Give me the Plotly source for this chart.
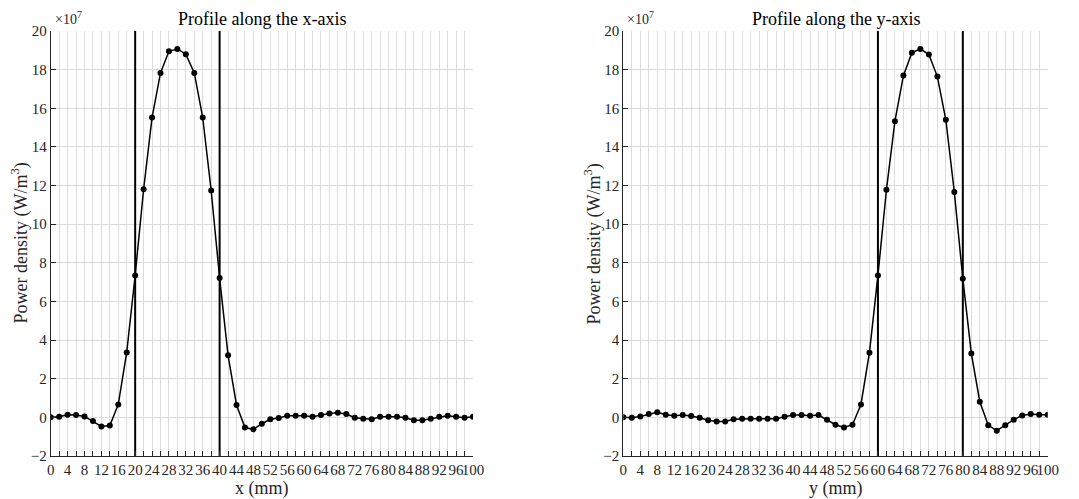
import plotly.graph_objects as go

# positions along each axis (mm)
pos_mm = list(range(0, 101, 2))

# power density along x (units of 1e7 W/m^3)
power_x = [0.00, 0.03, 0.14, 0.12, 0.05, -0.19, -0.47, -0.42, 0.67, 3.36,
           7.35, 11.81, 15.52, 17.83, 18.95, 19.07, 18.80, 17.83, 15.52, 11.74,
           7.21, 3.21, 0.64, -0.53, -0.62, -0.33, -0.10, -0.03, 0.09, 0.09,
           0.08, 0.03, 0.12, 0.20, 0.24, 0.17, -0.02, -0.07, -0.10, 0.03,
           0.03, 0.03, -0.02, -0.15, -0.15, -0.07, 0.03, 0.08, 0.03, -0.02,
           0.03]

# power density along y (units of 1e7 W/m^3)
power_y = [0.00, -0.02, 0.05, 0.17, 0.26, 0.14, 0.09, 0.12, 0.07, -0.02,
           -0.15, -0.21, -0.21, -0.10, -0.07, -0.07, -0.07, -0.07, -0.07, 0.03,
           0.12, 0.12, 0.09, 0.12, -0.12, -0.38, -0.52, -0.38, 0.67, 3.35,
           7.35, 11.78, 15.33, 17.69, 18.88, 19.07, 18.78, 17.64, 15.40, 11.66,
           7.18, 3.31, 0.81, -0.41, -0.69, -0.41, -0.12, 0.10, 0.17, 0.14,
           0.14]

x_bounds = [20, 40]
y_bounds = [60, 80]

x_ticks = list(range(0, 101, 4))
y_ticks = list(range(-2, 21, 2))
y_range = [-2, 20]

titles = ["Profile along the x-axis", "Profile along the y-axis"]
xlabels = ["x (mm)", "y (mm)"]
ylabel = "Power density (W/m<sup>3</sup>)"

FONT = "Liberation Serif, Times New Roman, serif"
AX = "#262626"
GRID = "#dcdcdc"

W, H = 1071, 491  # page has 8px body margin


def px(xpage):
    return (xpage - 8) / W


def py(ypage):
    return 1 - (ypage - 8) / H


fig = go.Figure()

panels = [
    (power_x, x_bounds, "x", "y", [px(50.7), px(473)], 20),
    (power_y, y_bounds, "x2", "y2", [px(623.3), px(1047.7)], 593),
]

for i, (vals, bounds, xa, ya, dom, ylab_x) in enumerate(panels):
    for b in bounds:
        fig.add_trace(go.Scatter(x=[b, b], y=y_range, mode="lines",
                                 line=dict(color="black", width=2),
                                 xaxis=xa, yaxis=ya, showlegend=False,
                                 hoverinfo="skip", cliponaxis=False))
    fig.add_trace(go.Scatter(x=pos_mm, y=vals, mode="lines+markers",
                             line=dict(color="black", width=1.5),
                             marker=dict(color="black", size=6),
                             xaxis=xa, yaxis=ya, showlegend=False))
    sfx = "" if i == 0 else "2"
    fig.update_layout(**{
        "xaxis" + sfx: dict(
            domain=dom, range=[0, 100], tickvals=x_ticks, ticks="inside",
            ticklen=5, tickcolor=AX, showline=True, linecolor=AX, linewidth=1,
            showgrid=True, gridcolor=GRID, gridwidth=1, zeroline=False,
            minor=dict(dtick=2, tick0=0, ticks="inside", ticklen=5,
                       tickcolor=AX, showgrid=True, gridcolor=GRID),
            tickfont=dict(family=FONT, size=15, color=AX), tickangle=0,
            automargin=False, anchor="y" + sfx, mirror=False,
        ),
        "yaxis" + sfx: dict(
            domain=[py(456), py(31)], range=y_range, tickvals=y_ticks,
            ticks="inside", ticklen=5, tickcolor=AX, showline=True,
            linecolor=AX, linewidth=1, showgrid=True, gridcolor=GRID,
            zeroline=False, automargin=False,
            tickfont=dict(family=FONT, size=15, color=AX),
            anchor="x" + sfx,
        ),
    })
    fig.add_annotation(text=titles[i], xref="x" + sfx + " domain", yref="paper",
                       x=0.5, y=py(19), xanchor="center", yanchor="middle",
                       showarrow=False,
                       font=dict(family=FONT, size=18, color="black"))
    fig.add_annotation(text="×10<sup>7</sup>", xref="x" + sfx + " domain",
                       yref="paper", x=0.005, y=py(29), xanchor="left",
                       yanchor="bottom", showarrow=False,
                       font=dict(family=FONT, size=14, color=AX))
    fig.add_annotation(text=xlabels[i], xref="x" + sfx + " domain", yref="paper",
                       x=0.5, y=py(488), xanchor="center", yanchor="middle",
                       showarrow=False,
                       font=dict(family=FONT, size=18, color=AX))
    fig.add_annotation(text=ylabel, xref="paper", yref="paper",
                       x=px(ylab_x), y=py(243.5), xanchor="center",
                       yanchor="middle", textangle=-90, showarrow=False,
                       font=dict(family=FONT, size=18, color=AX))

fig.update_layout(
    width=W, height=H,
    margin=dict(l=0, r=0, t=0, b=0),
    paper_bgcolor="white", plot_bgcolor="white",
    font=dict(family=FONT, color=AX),
)

fig.write_html("out.html")
